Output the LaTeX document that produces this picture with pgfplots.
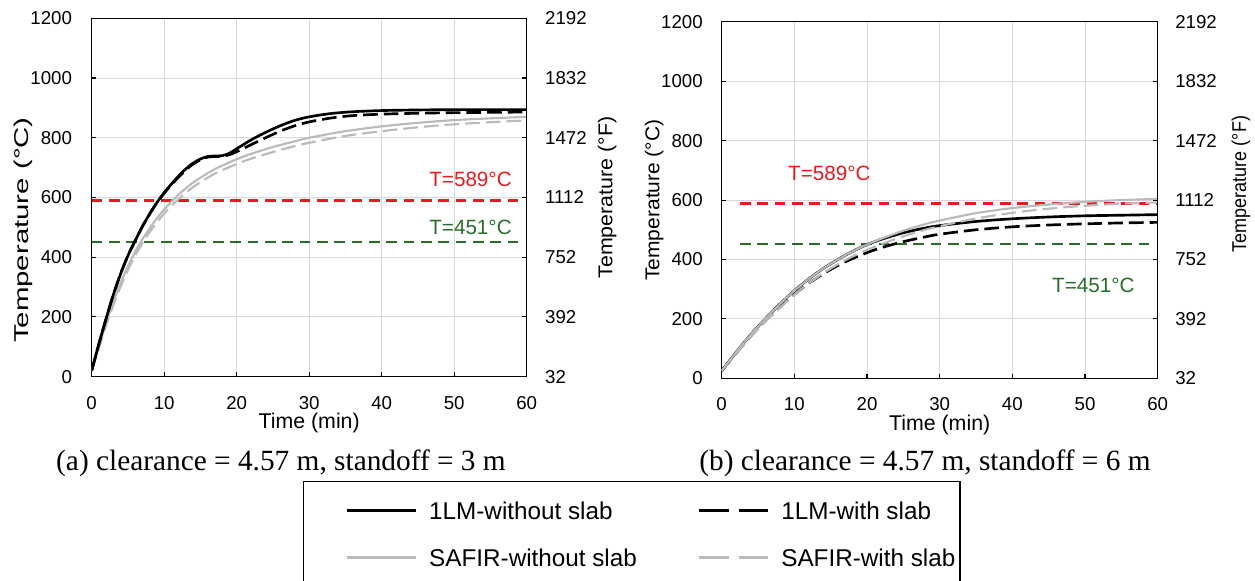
\documentclass[border=0pt]{standalone}
\usepackage{fontspec}
\setmainfont{Liberation Sans}
\newfontfamily\capfont{Liberation Serif}
\usepackage{graphicx}
\usepackage{pgfplots}
\pgfplotsset{compat=1.18}

\definecolor{safir}{RGB}{186,186,186}
\definecolor{tred}{RGB}{228,28,32}
\definecolor{tgreen}{RGB}{38,110,42}
\definecolor{gridc}{RGB}{217,217,217}

\tikzset{thlab/.style={font=\fontsize{15.5}{18}\selectfont, inner sep=0pt}}

\pgfplotsset{
  base/.style={
    scale only axis, xmin=0, xmax=60, ymin=0, ymax=1200,
    xtick={0,10,...,60}, ytick={0,200,...,1200},
    xticklabels={0,10,20,30,40,50,60},
    yticklabels={0,200,400,600,800,1000,1200},
    tick align=inside, xtick pos=left, ytick pos=left, major tick length=3.5pt,
    tick style={black, line width=0.8pt},
    axis line style={black, line width=1pt},
    grid=major, major grid style={gridc, line width=0.7pt},
    tick label style={font=\fontsize{14}{16}\selectfont, inner sep=0pt},
    label style={font=\fontsize{15}{18}\selectfont, inner sep=0pt},
    xlabel={Time (min)},
    xlabel style={font=\fontsize{16}{19}\selectfont},
    scaled ticks=false,
  },
  fahr/.style={
    scale only axis, xmin=0, xmax=60, ymin=32, ymax=2192,
    axis x line=none, axis y line*=right,
    ytick={32,392,752,1112,1472,1832,2192},
    yticklabels={32,392,752,1112,1472,1832,2192},
    tick align=inside, major tick length=3.5pt,
    tick style={black, line width=0.8pt},
    axis line style={black, line width=1pt},
    tick label style={font=\fontsize{14}{16}\selectfont, inner sep=0pt},
    label style={font=\fontsize{15}{18}\selectfont, inner sep=0pt},
    scaled ticks=false,
  },
  lmsolid/.style={black, line width=2pt, smooth},
  lmdash/.style={black, line width=2pt, smooth, dash pattern=on 11pt off 4.5pt},
  sfsolid/.style={safir, line width=1.6pt, smooth},
  sfdash/.style={safir, line width=1.6pt, smooth, dash pattern=on 11pt off 4.5pt},
  redth/.style={tred, line width=2pt, dash pattern=on 8pt off 5pt},
  greenth/.style={tgreen, line width=1.7pt, dash pattern=on 8pt off 5pt},
}

\begin{document}
\begin{tikzpicture}
\path[use as bounding box] (0pt,0pt) rectangle (941.25pt,-435.75pt);

% ---------------- (a) ----------------
\begin{axis}[base,
  at={(68.75pt,-282.5pt)}, anchor=south west,
  width=326.25pt, height=268.8pt,
  xticklabel style={yshift=-15pt},
  yticklabel style={xshift=-14.6pt},
  xlabel style={at={(axis description cs:0.5,-0.101)}, anchor=north},
  ylabel={\scalebox{1.47}[1]{Temperature (°C)}},
  ylabel style={at={(axis description cs:-0.156,0.409)}, anchor=center},
  legend columns=2,
  legend cell align=left,
  legend style={at={(axis description cs:0.48506,-0.29018)}, anchor=north west,
    draw=black, line width=1pt, fill=white,
    inner xsep=0pt, inner ysep=9pt, row sep=9pt, column sep=0pt,
    cells={anchor=west},
    nodes={inner sep=0pt, text depth=0pt},
    font=\fontsize{18.2}{21}\selectfont},
  legend image code/.code={%
    \path[draw=none, fill=none] (-32.5pt,-13.3pt) rectangle (61.9pt,13pt);
    \draw[#1, line width=2.4pt] (0pt,0pt) -- (51.75pt,0pt);},
]
\addlegendimage{black}
\addlegendentry{\makebox[169.7pt][l]{1LM-without slab}}
\addlegendimage{black, dash pattern=on 22.5pt off 7.5pt}
\addlegendentry{\makebox[134pt][l]{1LM-with slab}}
\addlegendimage{safir}
\addlegendentry{\makebox[169.7pt][l]{SAFIR-without slab}}
\addlegendimage{safir, dash pattern=on 22.5pt off 7.5pt}
\addlegendentry{\makebox[134pt][l]{SAFIR-with slab}}

\addplot[redth, forget plot] coordinates {(0,589) (58.8,589)};
\addplot[greenth, forget plot] coordinates {(0,451) (58.8,451)};

% SAFIR with slab
\addplot[sfdash, forget plot] coordinates {
(0,20) (1,95) (2,172) (3,240) (4,302) (5,357) (6,405) (7,447) (8,484) (9,517)
(10,546) (11,572) (12,595) (13,616) (14,635) (15,651) (17,680) (20,712) (22,730)
(25,752) (28,772) (30,783) (35,806) (40,822) (45,835) (50,845) (55,852) (60,858)};
% SAFIR without slab
\addplot[sfsolid, forget plot] coordinates {
(0,20) (1,100) (2,180) (3,250) (4,314) (5,370) (6,418) (7,460) (8,497) (9,530)
(10,560) (11,586) (12,610) (13,631) (14,650) (15,666) (17,695) (20,728) (22,746)
(25,769) (28,788) (30,800) (35,822) (40,838) (45,850) (50,859) (55,865) (60,870)};
% 1LM with slab
\addplot[lmdash, forget plot] coordinates {
(0,20) (1,110) (2,195) (3,275) (4,345) (5,405) (6,455) (7,503) (8,545) (9,583)
(10,614) (11,643) (12,668) (13,692) (14,712) (15,726) (16,735) (17,737) (18,738)
(19,743) (20,753) (21,765) (22,777) (24,800) (26,822) (28,840) (30,853) (33,866)
(36,874) (40,879) (45,882) (50,884) (55,885) (60,886)};
% 1LM without slab
\addplot[lmsolid, forget plot] coordinates {
(0,20) (1,110) (2,195) (3,275) (4,345) (5,405) (6,455) (7,503) (8,545) (9,583)
(10,616) (11,645) (12,672) (13,696) (14,715) (15,729) (16,737) (17,739) (18,740)
(19,748) (20,763) (21,778) (22,793) (24,818) (26,840) (28,858) (30,870) (33,881)
(36,887) (40,891) (45,893) (50,894) (55,894) (60,894)};

\node[thlab, text=tred, anchor=east] at (axis cs:57.97,659) {T=589°C};
\node[thlab, text=tgreen, anchor=east] at (axis cs:57.97,501) {T=451°C};
\end{axis}

\begin{axis}[fahr,
  at={(68.75pt,-282.5pt)}, anchor=south west,
  width=326.25pt, height=268.8pt,
  yticklabel style={xshift=13.7pt},
  ylabel={\scalebox{1.07}[1]{Temperature (°F)}},
  ylabel style={at={(axis description cs:1.185,0.50)}, anchor=center},
]
\end{axis}

% ---------------- (b) ----------------
\begin{axis}[base,
  at={(541.25pt,-283.75pt)}, anchor=south west,
  width=327pt, height=267.4pt,
  xticklabel style={yshift=-14pt},
  yticklabel style={xshift=-14pt},
  xlabel style={at={(axis description cs:0.5,-0.103)}, anchor=north},
  ylabel={\scalebox{1.05}[1]{Temperature (°C)}},
  ylabel style={at={(axis description cs:-0.155,0.50)}, anchor=center},
]
\addplot[redth] coordinates {(2.5,589) (60,589)};
\addplot[greenth] coordinates {(2.5,451) (58.8,451)};

% 1LM with slab
\addplot[lmdash] coordinates {
(0,25) (2,85) (4,142) (6,193) (8,240) (10,283) (12,320) (14,352) (16,380) (18,403)
(20,423) (22,440) (25,460) (28,476) (30,485) (35,500) (40,510) (45,516) (50,520)
(55,523) (60,525)};
% 1LM without slab
\addplot[lmsolid] coordinates {
(0,25) (2,88) (4,147) (6,200) (8,250) (10,295) (12,335) (14,370) (16,400) (18,427)
(20,450) (22,468) (25,490) (28,506) (30,514) (35,528) (40,537) (45,543) (50,547)
(55,549) (60,551)};
% SAFIR with slab
\addplot[sfdash] coordinates {
(0,25) (2,84) (4,140) (6,190) (8,238) (10,282) (12,320) (14,354) (16,384) (18,410)
(20,432) (22,452) (25,478) (28,500) (30,512) (35,538) (40,557) (45,571) (50,581)
(55,588) (60,592)};
% SAFIR without slab
\addplot[sfsolid] coordinates {
(0,25) (2,88) (4,147) (6,200) (8,250) (10,295) (12,335) (14,370) (16,400) (18,427)
(20,450) (22,470) (25,497) (28,519) (30,531) (35,556) (40,573) (45,585) (50,594)
(55,600) (60,604)};

\node[thlab, text=tred, anchor=west] at (axis cs:9.12,691) {T=589°C};
\node[thlab, text=tgreen, anchor=west] at (axis cs:45.45,314) {T=451°C};
\end{axis}

\begin{axis}[fahr,
  at={(541.25pt,-283.75pt)}, anchor=south west,
  width=327pt, height=267.4pt,
  yticklabel style={xshift=13pt},
  ylabel={\scalebox{0.9}[1]{Temperature (°F)}},
  ylabel style={at={(axis description cs:1.191,0.545)}, anchor=center},
]
\end{axis}

% captions
\node[anchor=base, inner sep=0pt, font=\capfont\fontsize{22}{26}\selectfont]
  at (210.75pt,-352.5pt) {(a) clearance = 4.57 m, standoff = 3 m};
\node[anchor=base, inner sep=0pt, font=\capfont\fontsize{22}{26}\selectfont]
  at (693.75pt,-352.5pt) {(b) clearance = 4.57 m, standoff = 6 m};
\end{tikzpicture}
\end{document}
